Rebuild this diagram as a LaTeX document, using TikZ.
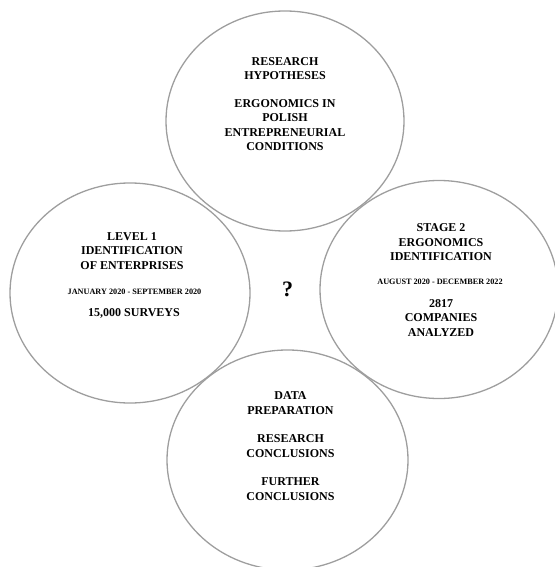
\documentclass[tikz,border=0pt]{standalone}
\usepackage{fontspec}
\setmainfont{Liberation Serif}
\usetikzlibrary{shapes.geometric}

\begin{document}
\begin{tikzpicture}[x=1pt, y=-1pt,
    ring/.style={ellipse, draw=black!38, line width=1.3pt, inner sep=0pt},
    txt/.style={align=center, inner sep=0pt, font=\bfseries\fontsize{12}{14.3}\selectfont},
    datetxt/.style={inner sep=0pt, font=\bfseries\fontsize{8.2}{9}\selectfont}]
    \useasboundingbox (0,0) rectangle (554,567);

    % the four rings
    \node[ring, minimum width=238pt, minimum height=220pt] (hyp) at (285,121) {};
    \node[ring, minimum width=240pt, minimum height=220pt] (lvl) at (130,293) {};
    \node[ring, minimum width=238pt, minimum height=218pt] (stage) at (439,289.5) {};
    \node[ring, minimum width=241pt, minimum height=220pt] (prep) at (287.5,460) {};

    % top ring
    \node[txt] (hypA) at (285,68.4) {RESEARCH\\HYPOTHESES};
    \node[txt] (hypB) at (285,125) {ERGONOMICS IN\\POLISH\\ENTREPRENEURIAL\\CONDITIONS};

    % left ring
    \node[txt] (lvlA) at (132,251) {LEVEL 1\\IDENTIFICATION\\OF ENTERPRISES};
    \node[datetxt] (lvlDate) at (134.5,291.7) {JANUARY 2020 - SEPTEMBER 2020};
    \node[txt] (lvlB) at (134,313.3) {15,000 SURVEYS};

    % right ring
    \node[txt] (stageA) at (441,242.3) {STAGE 2\\ERGONOMICS\\IDENTIFICATION};
    \node[datetxt] (stageDate) at (440,282) {AUGUST 2020 - DECEMBER 2022};
    \node[txt] (stageB) at (441,318) {2817\\COMPANIES\\ANALYZED};

    % bottom ring
    \node[txt] (prepA) at (290.5,403) {DATA\\PREPARATION};
    \node[txt] (prepB) at (290.5,446) {RESEARCH\\CONCLUSIONS};
    \node[txt] (prepC) at (290.5,489) {FURTHER\\CONCLUSIONS};

    \node[font=\bfseries\fontsize{22}{24}\selectfont, inner sep=0pt] (ask) at (287.5,289.5) {?};
\end{tikzpicture}
\end{document}
